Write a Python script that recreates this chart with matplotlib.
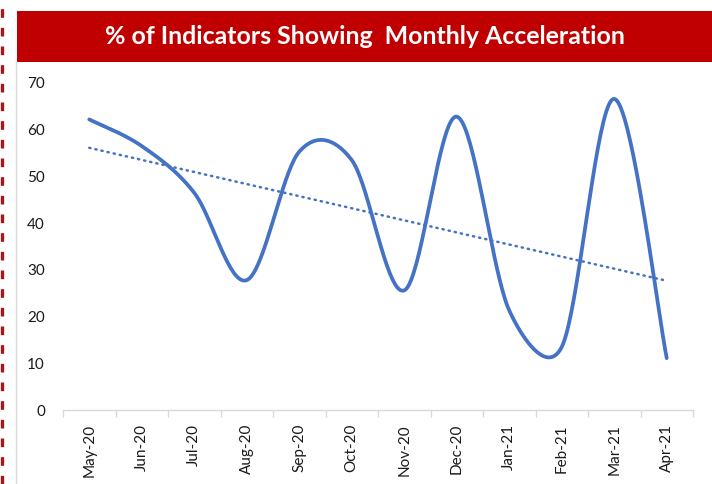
import numpy as np
import matplotlib
matplotlib.use('Agg')
import matplotlib.pyplot as plt
from matplotlib.patches import Rectangle
from matplotlib.lines import Line2D

plt.rcParams['font.family'] = ['Lato', 'DejaVu Sans']

months = ['May-20', 'Jun-20', 'Jul-20', 'Aug-20', 'Sep-20', 'Oct-20',
          'Nov-20', 'Dec-20', 'Jan-21', 'Feb-21', 'Mar-21', 'Apr-21']
pct_accel = [62.2, 56.5, 46.5, 27.8, 55.3, 53.5, 25.6, 62.8, 21.3, 13.5, 66.6, 11.1]
yticks = [0, 10, 20, 30, 40, 50, 60, 70]

title = '% of Indicators Showing  Monthly Acceleration'
lineColor = '#4472C4'

W, H = 712, 484


def fx(x):
    return x / W


def fy(y):
    return 1 - y / H


def excel_smooth(ax, xs, ys, n=40):
    # excel style smoothed line: bezier with control points at 1/6,
    # capped at half the segment length (done in screen space)
    pts = ax.transData.transform(np.column_stack([xs, ys]))
    m = len(pts)
    out = []
    for i in range(m - 1):
        p0 = pts[i - 1] if i > 0 else pts[i]
        p1 = pts[i]
        p2 = pts[i + 1]
        p3 = pts[i + 2] if i + 2 < m else pts[i + 1]
        d12 = np.hypot(*(p2 - p1))
        d02 = np.hypot(*(p2 - p0))
        d13 = np.hypot(*(p3 - p1))
        f1 = 1 / 6
        f2 = 1 / 6
        if d02 / 6 > d12 / 2 and d02 > 0:
            f1 = d12 / d02 / 2
        if d13 / 6 > d12 / 2 and d13 > 0:
            f2 = d12 / d13 / 2
        c1 = p1 + f1 * (p2 - p0)
        c2 = p2 - f2 * (p3 - p1)
        t = np.linspace(0, 1, n)[:, None]
        seg = ((1 - t)**3 * p1 + 3 * (1 - t)**2 * t * c1
               + 3 * (1 - t) * t**2 * c2 + t**3 * p2)
        out.append(seg)
    out = np.vstack(out)
    back = ax.transData.inverted().transform(out)
    return back[:, 0], back[:, 1]


fig = plt.figure(figsize=(W / 100, H / 100), dpi=100)

# dashed red border on the left
fig.add_artist(Line2D([fx(1.6), fx(1.6)], [0, 1], transform=fig.transFigure,
                      color='#a8151b', lw=2.4, linestyle=(0, (2.6, 3.0))))
# chart frame
fig.add_artist(Line2D([fx(15.5), fx(15.5)], [0, fy(62)], transform=fig.transFigure,
                      color='#d9d9d9', lw=1))
# title banner
fig.add_artist(Rectangle((fx(17), fy(62)), 1 - fx(17), (62 - 11) / H,
                         transform=fig.transFigure, color='#C00000', lw=0))
fig.text(fx(365), fy(37), title, color='white', fontsize=17.9, fontweight='bold',
         ha='center', va='center')

ax = fig.add_axes([fx(63), fy(410), fx(693) - fx(63), (410 - 83) / H])

x = np.arange(len(months))
ax.set_xlim(-0.5, len(months) - 0.5)
ax.set_ylim(0, 70)

sx, sy = excel_smooth(ax, x, pct_accel)
ax.plot(sx, sy, color=lineColor, lw=2.7, solid_capstyle='round')

coef = np.polyfit(x, pct_accel, 1)
trend = np.polyval(coef, x)
ax.plot(x, trend, color=lineColor, lw=1.8, linestyle=(0, (0.5, 2.0)),
        dash_capstyle='round')

ax.set_yticks(yticks)
ax.set_xticks(np.arange(len(months) + 1) - 0.5)
ax.set_xticklabels([])
ax.set_xticks(x, minor=True)
ax.set_xticklabels(months, minor=True, rotation=90)

for s in ['top', 'right', 'left']:
    ax.spines[s].set_visible(False)
ax.spines['bottom'].set_color('#d9d9d9')
ax.spines['bottom'].set_linewidth(1)

ax.tick_params(axis='x', which='major', length=5, color='#d9d9d9', width=1)
ax.tick_params(axis='x', which='minor', length=0, pad=10, labelsize=11,
               labelcolor='#1a1a1a')
ax.tick_params(axis='y', length=0, pad=13, labelsize=11, labelcolor='#1a1a1a')

fig.savefig('out.png', dpi=100)
